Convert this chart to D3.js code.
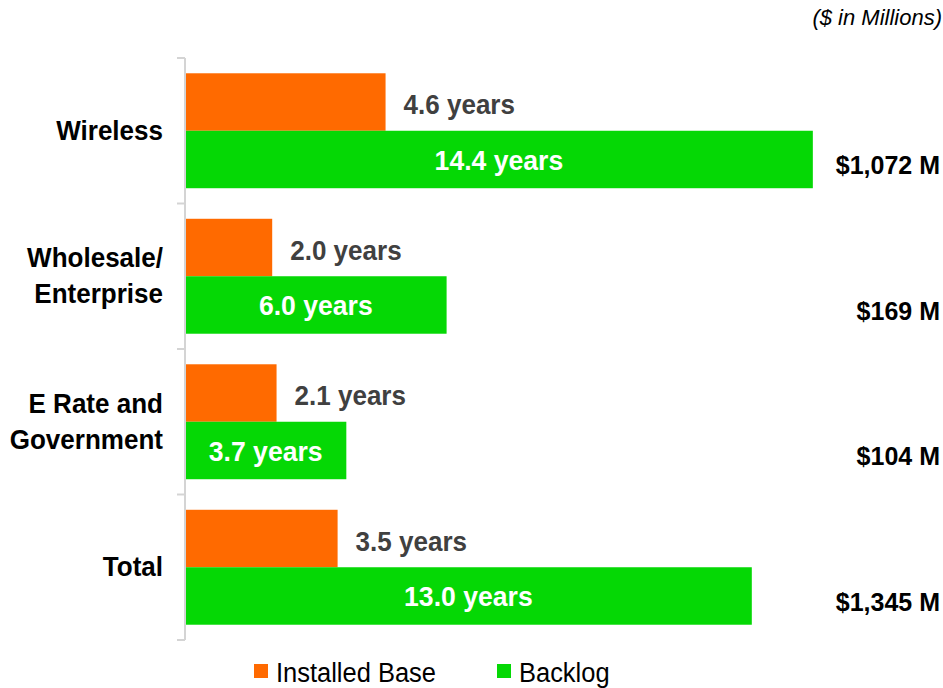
<!DOCTYPE html>
<html>
<head>
<meta charset="utf-8">
<script src="https://cdn.jsdelivr.net/npm/d3@7"></script>
<style>
  body { margin: 0; background: #fff; }
  text { font-family: "Liberation Sans", Arial, sans-serif; }
</style>
</head>
<body>
<div id="chart"></div>
<script>
// chart data
var categories = ["Wireless", "Wholesale/|Enterprise", "E Rate and|Government", "Total"];
var series = ["Installed Base", "Backlog"];
var installedBase = [4.6, 2.0, 2.1, 3.5];
var backlog = [14.4, 6.0, 3.7, 13.0];
var backlogDollars = ["$1,072 M", "$169 M", "$104 M", "$1,345 M"];
var colors = ["#ff6a00", "#05d805"];

var svgWidth = 943;
var svgHeight = 688;

var svg = d3.select("#chart")
            .append("svg")
            .attr("width", svgWidth)
            .attr("height", svgHeight);

// scales
var yScale = d3.scaleBand()
               .domain(categories)
               .range([58, 640])
               .paddingInner(0.21)
               .paddingOuter(0.105);

var ySeries = d3.scaleBand()
                .domain(series)
                .range([0, yScale.bandwidth()]);

var xScale = d3.scaleLinear()
               .domain([0, 16])
               .range([185, 185 + 16 * 43.6]);

var step = yScale.step();

// condensed text helper
function ctext(g, x, y, txt, anchor, sx) {
    return g.append("text")
            .attr("transform", `translate(${x},${y}) scale(${sx},1)`)
            .attr("text-anchor", anchor)
            .text(txt);
}

// bars
var rows = categories.map(function(c, i) {
    return { cat: c, values: [installedBase[i], backlog[i]], dollars: backlogDollars[i] };
});

var groups = svg.selectAll(".row")
                .data(rows)
                .enter()
                .append("g")
                .attr("class", "row")
                .attr("transform", d => `translate(0, ${yScale(d.cat)})`);

groups.selectAll("rect")
      .data(d => d.values.map((v, j) => ({ s: series[j], v: v, j: j })))
      .enter()
      .append("rect")
      .attr("x", xScale(0))
      .attr("y", d => ySeries(d.s))
      .attr("width", d => xScale(d.v) - xScale(0))
      .attr("height", ySeries.bandwidth())
      .attr("fill", d => colors[d.j]);

// axis line with boundary ticks
var axisG = svg.append("g");
axisG.append("line")
     .attr("x1", xScale(0)).attr("x2", xScale(0))
     .attr("y1", yScale.range()[0]).attr("y2", yScale.range()[1])
     .attr("stroke", "#d4d4d4").attr("stroke-width", 2);

var bounds = categories.map(c => yScale(c) - step * yScale.paddingInner() / 2);
bounds.push(yScale.range()[1]);
axisG.selectAll(".tick")
     .data(bounds)
     .enter()
     .append("line")
     .attr("x1", xScale(0) - 8).attr("x2", xScale(0))
     .attr("y1", d => d).attr("y2", d => d)
     .attr("stroke", "#d4d4d4").attr("stroke-width", 2);

// value labels
groups.each(function(d) {
    var g = d3.select(this);
    var oy = ySeries(series[0]) + ySeries.bandwidth() / 2;
    var gy = ySeries(series[1]) + ySeries.bandwidth() / 2;

    ctext(g, xScale(d.values[0]) + 18, oy + 12, d.values[0].toFixed(1) + " years", "start", 0.93)
        .attr("font-size", 28).attr("font-weight", "bold").attr("fill", "#404040");

    ctext(g, (xScale(0) + xScale(d.values[1])) / 2, gy + 10.5, d.values[1].toFixed(1) + " years", "middle", 0.95)
        .attr("font-size", 28).attr("font-weight", "bold").attr("fill", "#ffffff");

    ctext(g, 940, gy + 15, d.dollars, "end", 1)
        .attr("font-size", 25).attr("font-weight", "bold").attr("fill", "#000");
});

// category labels
categories.forEach(function(c) {
    var lines = c.split("|");
    var cy = yScale(c) + yScale.bandwidth() / 2;
    lines.forEach(function(l, i) {
        ctext(svg, 163, cy + (i - (lines.length - 1) / 2) * 36 + 9, l, "end", 0.93)
            .attr("font-size", 28).attr("font-weight", "bold").attr("fill", "#000");
    });
});

// units note
svg.append("text")
   .attr("x", 942).attr("y", 25)
   .attr("text-anchor", "end")
   .attr("font-size", 22)
   .attr("font-style", "italic")
   .attr("fill", "#000")
   .text("($ in Millions)");

// legend
var legendX = [254, 497];
var legend = svg.selectAll(".legend")
                .data(series)
                .enter()
                .append("g")
                .attr("class", "legend")
                .attr("transform", (d, i) => `translate(${legendX[i]}, 664)`);

legend.append("rect")
      .attr("width", 14).attr("height", 14)
      .attr("fill", (d, i) => colors[i]);

legend.each(function(d) {
    ctext(d3.select(this), 22, 18, d, "start", 0.91)
        .attr("font-size", 28).attr("fill", "#000");
});
</script>
</body>
</html>
